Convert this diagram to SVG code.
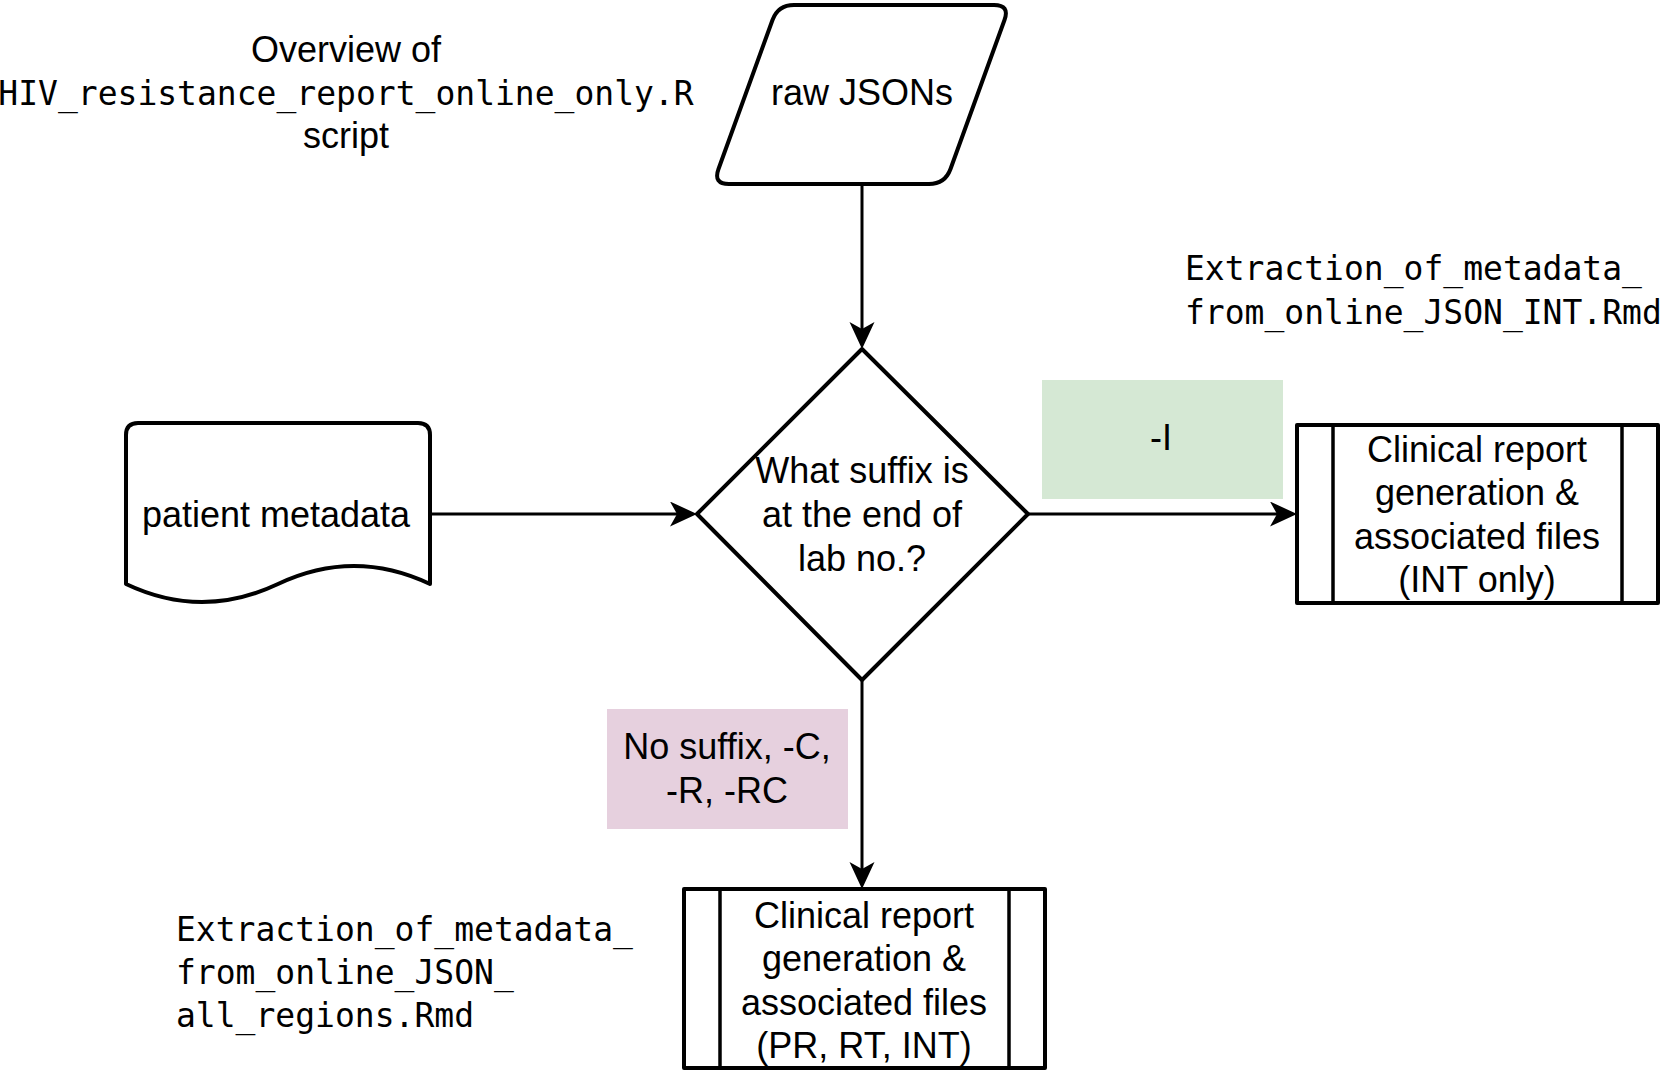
<svg xmlns="http://www.w3.org/2000/svg" width="1668" height="1071" viewBox="0 0 1668 1071">
<defs>
<style>
.node{fill:#ffffff;stroke:#000000;stroke-width:4;stroke-linejoin:round}
.inner{stroke:#000000;stroke-width:3.5;fill:none}
.conn{stroke:#000000;stroke-width:3;fill:none}
.sans{font-family:"Liberation Sans",Arial,Helvetica,sans-serif;font-size:36px;fill:#000000;text-anchor:middle}
.mono{font-family:"DejaVu Sans Mono","Liberation Mono",monospace;font-size:33px;fill:#000000}
</style>
<marker id="arrow" markerUnits="userSpaceOnUse" markerWidth="28" markerHeight="26" viewBox="0 0 28 26" refX="7" refY="12.5" orient="auto">
<path d="M0,0 L27,12.5 L0,25 L7,12.5 Z" fill="#000000"/>
</marker>
</defs>
<rect width="1668" height="1071" fill="#ffffff"/>

<g id="title">
<text class="sans" x="346" y="62">Overview of</text>
<text class="mono" x="346" y="105" text-anchor="middle">HIV_resistance_report_online_only.R</text>
<text class="sans" x="346" y="148">script</text>
</g>

<g id="connectors">
<path class="conn" d="M862,184 V329" marker-end="url(#arrow)"/>
<path class="conn" d="M430,514 H677" marker-end="url(#arrow)"/>
<path class="conn" d="M1028,514 H1277" marker-end="url(#arrow)"/>
<path class="conn" d="M862,680 V869" marker-end="url(#arrow)"/>
</g>

<g id="raw-jsons">
<path class="node" d="M794,5 H994 Q1010,5 1004.5,20 L950.5,169 Q945,184 929,184 H729 Q713,184 718.5,169 L772.5,20 Q778,5 794,5 Z"/>
<text class="sans" x="862" y="105">raw JSONs</text>
</g>

<g id="patient-metadata">
<path class="node" d="M126,584 V435 Q126,423 138,423 H418 Q430,423 430,435 V584 Q354,548 278,584 Q202,620 126,584 Z"/>
<text class="sans" x="276" y="527">patient metadata</text>
</g>

<g id="decision">
<path class="node" d="M862,349 L1028,514 L862,680 L697,514 Z"/>
<text class="sans" x="862" y="483">What suffix is</text>
<text class="sans" x="862" y="527">at the end of</text>
<text class="sans" x="862" y="571">lab no.?</text>
</g>

<g id="label-int">
<rect x="1042" y="380" width="241" height="119" fill="#d5e8d4"/>
<text class="sans" x="1161" y="450">-I</text>
</g>

<g id="label-other">
<rect x="607" y="709" width="241" height="120" fill="#e6d0de"/>
<text class="sans" x="727" y="759">No suffix, -C,</text>
<text class="sans" x="727" y="803">-R, -RC</text>
</g>

<g id="report-int">
<rect class="node" x="1297" y="425" width="361" height="178"/>
<line class="inner" x1="1333" y1="425" x2="1333" y2="603"/>
<line class="inner" x1="1622" y1="425" x2="1622" y2="603"/>
<text class="sans" x="1477" y="462">Clinical report</text>
<text class="sans" x="1477" y="505">generation &amp;</text>
<text class="sans" x="1477" y="549">associated files</text>
<text class="sans" x="1477" y="592">(INT only)</text>
</g>

<g id="report-all">
<rect class="node" x="684" y="889" width="361" height="179"/>
<line class="inner" x1="720" y1="889" x2="720" y2="1068"/>
<line class="inner" x1="1009" y1="889" x2="1009" y2="1068"/>
<text class="sans" x="864" y="928">Clinical report</text>
<text class="sans" x="864" y="971">generation &amp;</text>
<text class="sans" x="864" y="1015">associated files</text>
<text class="sans" x="864" y="1058">(PR, RT, INT)</text>
</g>

<g id="note-int">
<text class="mono" x="1185" y="280">Extraction_of_metadata_</text>
<text class="mono" x="1185" y="324">from_online_JSON_INT.Rmd</text>
</g>

<g id="note-all">
<text class="mono" x="176" y="941">Extraction_of_metadata_</text>
<text class="mono" x="176" y="984">from_online_JSON_</text>
<text class="mono" x="176" y="1027">all_regions.Rmd</text>
</g>
</svg>
